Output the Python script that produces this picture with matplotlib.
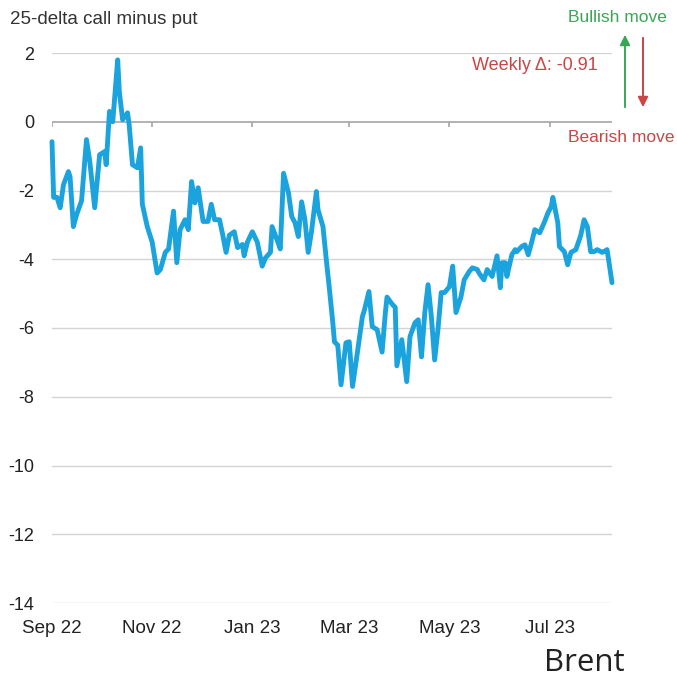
import pandas as pd
import matplotlib
matplotlib.use('Agg')
from matplotlib import pyplot as plt

# days since 1 Sep 2022
day_offsets = [0, 1, 3, 5, 7, 10, 11, 13, 15, 18, 21, 23, 26, 29, 32, 33, 35, 37, 40, 41,
               43, 46, 47, 49, 52, 54, 55, 58, 61, 64, 66, 69, 71, 74, 76, 78, 81, 83, 85, 87,
               89, 92, 95, 97, 99, 102, 104, 106, 108, 111, 113, 116, 117, 119, 122, 125, 128, 130, 133, 134,
               137, 139, 141, 144, 146, 148, 150, 152, 154, 156, 158, 161, 162, 165, 167, 169, 171, 172, 174, 176,
               179, 181, 183, 186, 189, 190, 193, 195, 198, 201, 203, 204, 207, 209, 210, 213, 216, 218, 221, 223,
               225, 227, 229, 231, 233, 235, 237, 239, 242, 244, 246, 249, 251, 254, 256, 259, 260, 263, 265, 268,
               271, 273, 274, 276, 277, 280, 282, 283, 286, 288, 290, 292, 294, 297, 300, 302, 304, 305, 308, 309,
               312, 314, 316, 319, 322, 324, 326, 328, 330, 332, 335, 336, 338, 341]
skew = [-0.58, -2.2, -2.2, -2.5, -1.83, -1.45, -1.6, -3.05, -2.7, -2.3, -0.52, -1.15, -2.5, -0.96, -0.87, -1.25, 0.3, 0.0, 1.8, 0.87,
        0.06, 0.26, -0.09, -1.25, -1.34, -0.76, -2.4, -3.05, -3.5, -4.4, -4.3, -3.8, -3.7, -2.6, -4.1, -3.14, -2.85, -3.14, -1.74, -2.36,
        -1.92, -2.9, -2.9, -2.4, -2.85, -2.85, -3.3, -3.8, -3.3, -3.2, -3.66, -3.57, -3.9, -3.5, -3.2, -3.5, -4.2, -3.96, -3.8, -3.05,
        -3.43, -3.7, -1.5, -2.07, -2.76, -2.94, -3.34, -2.33, -2.85, -3.8, -3.2, -2.03, -2.56, -3.05, -4.0, -4.9, -5.85, -6.4, -6.5, -7.65,
        -6.43, -6.4, -7.7, -6.7, -5.67, -5.52, -4.94, -5.96, -6.05, -6.7, -5.55, -5.1, -5.3, -5.4, -7.1, -6.34, -7.56, -6.25, -5.85, -5.76,
        -6.84, -5.55, -4.74, -5.67, -6.93, -6.05, -4.97, -4.97, -4.8, -4.2, -5.55, -5.1, -4.6, -4.36, -4.25, -4.3, -4.4, -4.6, -4.3, -4.5,
        -3.9, -4.83, -4.1, -4.1, -4.5, -3.87, -3.72, -3.78, -3.63, -3.58, -3.87, -3.52, -3.14, -3.23, -2.9, -2.65, -2.47, -2.2, -2.94, -3.63,
        -3.78, -4.16, -3.8, -3.72, -3.3, -2.85, -3.05, -3.78, -3.78, -3.72, -3.8, -3.78, -3.72, -4.68]

tick_dates = ['2022-09-01', '2022-11-01', '2023-01-01', '2023-03-01', '2023-05-01', '2023-07-01']
tick_labels = ['Sep 22', 'Nov 22', 'Jan 23', 'Mar 23', 'May 23', 'Jul 23']
y_ticks = [2, 0, -2, -4, -6, -8, -10, -12, -14]

start = pd.Timestamp('2022-09-01')
dates = start + pd.to_timedelta(day_offsets, unit='D')
ticks = pd.to_datetime(tick_dates)

plt.rcParams['font.family'] = ['Liberation Sans', 'DejaVu Sans']

fig = plt.figure(figsize=(6.77, 6.8), dpi=100)
ax = fig.add_axes([52 / 677, 1 - 603 / 680, 560 / 677, 550 / 680])

for y in y_ticks:
    if y != 0:
        ax.axhline(y, color='#d3d3d3', lw=1, zorder=1)
ax.axhline(0, color='#a6a6a6', lw=1.2, zorder=1)
ax.vlines(ticks, -0.16, 0, color='#a6a6a6', lw=1.2, zorder=1)

ax.plot(dates, skew, color='#1aa3dd', lw=3.5, solid_joinstyle='round',
        solid_capstyle='round', zorder=3, clip_on=False)

ax.set_ylim(-14, 2)
ax.set_xlim(start, start + pd.Timedelta(days=341))
ax.set_yticks(y_ticks)
ax.set_yticklabels([str(v) for v in y_ticks])
ax.set_xticks(ticks)
ax.set_xticklabels(tick_labels)
ax.tick_params(axis='y', length=0, pad=13, labelsize=13, labelcolor='#222222')
ax.tick_params(axis='x', length=0, pad=12, labelsize=13.5, labelcolor='#222222')
for s in ax.spines.values():
    s.set_visible(False)

fig.text(10 / 677, 1 - 19 / 680, '25-delta call minus put', fontsize=13.5, color='#333333', va='center')

fig.text(617 / 677, 1 - 17 / 680, 'Bullish move', fontsize=12.5, color='#3aa655', va='center', ha='center')
fig.text(621 / 677, 1 - 138 / 680, 'Bearish move', fontsize=12.5, color='#cc4444', va='center', ha='center')
fig.text(598 / 677, 1 - 65 / 680, 'Weekly \u0394: -0.91', fontsize=13, color='#cc4444', va='center', ha='right')

fig.add_artist(matplotlib.patches.FancyArrowPatch(
    (625 / 677, 1 - 110 / 680), (625 / 677, 1 - 32 / 680), transform=fig.transFigure,
    arrowstyle='-|>,head_length=6,head_width=3', color='#3aa655', lw=1.4))
fig.add_artist(matplotlib.patches.FancyArrowPatch(
    (643 / 677, 1 - 35 / 680), (643 / 677, 1 - 110 / 680), transform=fig.transFigure,
    arrowstyle='-|>,head_length=6,head_width=3', color='#cc4444', lw=1.4))

fig.text(584 / 677, 1 - 663 / 680, 'Brent', fontsize=22.5, color='#222222', va='center', ha='center',
         family=['Open Sans', 'DejaVu Sans'])

fig.savefig('out.png', dpi=100)
